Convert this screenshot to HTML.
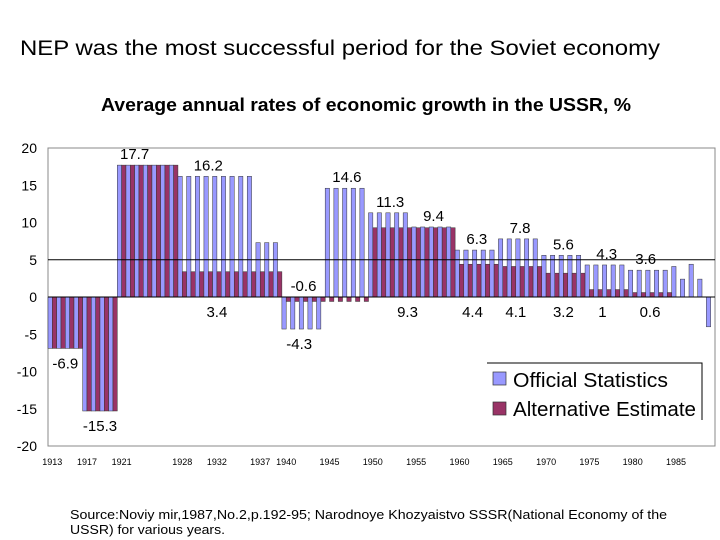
<!DOCTYPE html>
<html><head><meta charset="utf-8"><style>
html,body{margin:0;padding:0;background:#fff;width:720px;height:540px;overflow:hidden}
svg{display:block;font-family:"Liberation Sans",Arial,sans-serif}
</style></head><body>
<svg id="chart" width="720" height="540" xmlns="http://www.w3.org/2000/svg">
<text x="20" y="55" font-size="21" textLength="640" lengthAdjust="spacingAndGlyphs">NEP was the most successful period for the Soviet economy</text>
<text x="101" y="111" font-size="18" font-weight="bold" textLength="530" lengthAdjust="spacingAndGlyphs">Average annual rates of economic growth in the USSR, %</text>
<rect x="48" y="148" width="667" height="298" fill="none" stroke="#888" stroke-width="1"/>
<g id="bars"></g>
<g id="axes"></g>
<g id="labels"></g>
<g>
<polyline points="487,363 702,363 702,420" fill="none" stroke="#000" stroke-width="1"/>
<rect x="493" y="372" width="13" height="13" fill="#9999ff" stroke="#333" stroke-width="0.7"/>
<text x="513" y="387" font-size="20" textLength="155" lengthAdjust="spacingAndGlyphs">Official Statistics</text>
<rect x="493" y="402" width="13" height="13" fill="#993366" stroke="#333" stroke-width="0.7"/>
<text x="513" y="416" font-size="20" textLength="183" lengthAdjust="spacingAndGlyphs">Alternative Estimate</text>
</g>
<text x="70" y="519" font-size="12.5" textLength="597" lengthAdjust="spacingAndGlyphs">Source:Noviy mir,1987,No.2,p.192-95; Narodnoye Khozyaistvo SSSR(National Economy   of the</text>
<text x="70" y="534" font-size="12.5" textLength="155" lengthAdjust="spacingAndGlyphs">USSR) for various years.</text>
</svg>
<script>
const years = [];
for (let y = 1913; y <= 1989; y++) years.push(y);
const officialPeriods = [[1913,1916,-6.9],[1917,1920,-15.3],[1921,1927,17.7],[1928,1936,16.2],[1937,1939,7.3],[1940,1944,-4.3],[1945,1949,14.6],[1950,1954,11.3],[1955,1959,9.4],[1960,1964,6.3],[1965,1969,7.8],[1970,1974,5.6],[1975,1979,4.3],[1980,1984,3.6],[1985,1985,4.1],[1986,1986,2.4],[1987,1987,4.4],[1988,1988,2.4],[1989,1989,-4.0]];
const alternativePeriods = [[1913,1916,-6.9],[1917,1920,-15.3],[1921,1927,17.7],[1928,1939,3.4],[1940,1949,-0.6],[1950,1959,9.3],[1960,1964,4.4],[1965,1969,4.1],[1970,1974,3.2],[1975,1979,1],[1980,1984,0.6]];
const yTicks = [20,15,10,5,0,-5,-10,-15,-20];
const xTickYears = [1913,1917,1921,1928,1932,1937,1940,1945,1950,1955,1960,1965,1970,1975,1980,1985];
const valueLabels = [["17.7",1922.5,17.7,"above"],["16.2",1931,16.2,"above"],["14.6",1947,14.6,"above"],["11.3",1952,11.3,"above"],["9.4",1957,9.4,"above"],["6.3",1962,6.3,"above"],["7.8",1967,7.8,"above"],["5.6",1972,5.6,"above"],["4.3",1977,4.3,"above"],["3.6",1981.5,3.6,"above"],["-0.6",1942,-0.6,"above"],["3.4",1932,0,"below"],["-4.3",1941.5,-4.3,"below"],["9.3",1954,0,"below"],["4.4",1961.5,0,"below"],["4.1",1966.5,0,"below"],["3.2",1972,0,"below"],["1",1976.5,0,"below"],["0.6",1982,0,"below"],["-6.9",1914.5,-6.9,"below"],["-15.3",1918.5,-15.3,"below"]];

const NS = "http://www.w3.org/2000/svg";
const X0 = 48, X1 = 715, Y0 = 446, Y1 = 148, VMIN = -20, VMAX = 20;
const band = (X1 - X0) / years.length;
function xBand(yr) { return X0 + (yr - years[0]) * band; }
function yScale(v) { return Y0 - (v - VMIN) / (VMAX - VMIN) * (Y0 - Y1); }
function expand(periods) {
  const m = {};
  periods.forEach(p => { for (let y = p[0]; y <= p[1]; y++) m[y] = p[2]; });
  return m;
}
const official = expand(officialPeriods);
const alternative = expand(alternativePeriods);
const gBars = document.getElementById('bars');
const gAxes = document.getElementById('axes');
const gLab = document.getElementById('labels');

const ref = document.createElementNS(NS, 'line');
ref.setAttribute('x1', X0); ref.setAttribute('x2', X1);
ref.setAttribute('y1', yScale(5)); ref.setAttribute('y2', yScale(5));
ref.setAttribute('stroke', '#000'); ref.setAttribute('stroke-width', '1');


gAxes.appendChild(ref);

function addBar(yr, v, series, offset) {
  const r = document.createElementNS(NS, 'rect');
  const x = xBand(yr) + offset * band / 2;
  const y0 = yScale(0), y = yScale(v);
  r.setAttribute('x', x.toFixed(2));
  r.setAttribute('width', (band / 2).toFixed(2));
  r.setAttribute('y', Math.min(y, y0).toFixed(2));
  r.setAttribute('height', Math.abs(y - y0).toFixed(2));
  r.setAttribute('fill', series === 'official' ? '#9999ff' : '#993366');
  r.setAttribute('stroke', '#333'); r.setAttribute('stroke-width', '0.5');
  
  
  gBars.appendChild(r);
}
years.forEach(yr => {
  if (official[yr] !== undefined) addBar(yr, official[yr], 'official', 0);
  if (alternative[yr] !== undefined) addBar(yr, alternative[yr], 'alternative', 1);
});

const zl = document.createElementNS(NS, 'line');
zl.setAttribute('x1', X0); zl.setAttribute('x2', X1);
zl.setAttribute('y1', yScale(0)); zl.setAttribute('y2', yScale(0));
zl.setAttribute('stroke', '#000'); zl.setAttribute('stroke-width', '1');


gAxes.appendChild(zl);

yTicks.forEach(v => {
  const t = document.createElementNS(NS, 'text');
  t.setAttribute('x', 37); t.setAttribute('y', yScale(v) + 5);
  t.setAttribute('text-anchor', 'end'); t.setAttribute('font-size', '14');
  t.textContent = v;
  
  
  gAxes.appendChild(t);
});
xTickYears.forEach(yr => {
  const t = document.createElementNS(NS, 'text');
  t.setAttribute('x', (xBand(yr) + band / 2).toFixed(1)); t.setAttribute('y', 465);
  t.setAttribute('text-anchor', 'middle'); t.setAttribute('font-size', '9');
  t.textContent = yr;
  
  
  gAxes.appendChild(t);
});
valueLabels.forEach(l => {
  const t = document.createElementNS(NS, 'text');
  t.setAttribute('x', (xBand(l[1]) + band / 2).toFixed(1));
  const y = l[3] === 'above' ? yScale(Math.max(l[2], 0)) - 6 : yScale(Math.min(l[2], 0)) + 20;
  t.setAttribute('y', y.toFixed(1));
  t.setAttribute('text-anchor', 'middle'); t.setAttribute('font-size', '15');
  t.textContent = l[0];
  
  
  gLab.appendChild(t);
});
</script>
</body></html>
